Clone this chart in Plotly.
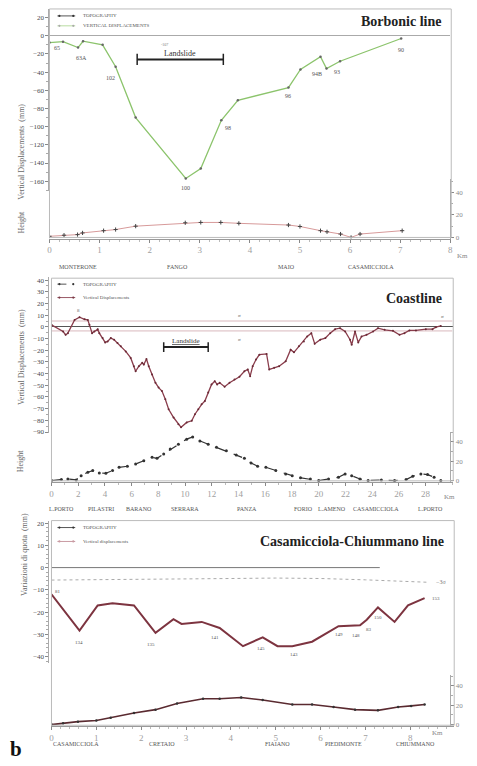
import plotly.graph_objects as go

W, H = 477, 766
def PX(x): return x / W
def PY(y): return 1 - y / H

# ---------------- Borbonic line ----------------
bor_km = [0, 0.27, 0.57, 0.67, 1.06, 1.32, 1.72, 2.72, 3.02, 3.43, 3.76, 4.77, 5.01, 5.41, 5.53, 5.80, 7.02]
bor_disp = [-7.5, -6.5, -13, -6, -10, -34, -90, -157, -146, -93, -71, -57, -37, -23, -36, -28, -3]
bor_h_km = [0, 0.29, 0.56, 0.66, 1.08, 1.32, 1.72, 2.71, 3.02, 3.42, 3.78, 4.77, 5.0, 5.41, 5.54, 5.81, 6.02, 6.2, 7.04]
bor_h = [1, 2, 2.5, 4, 6, 7, 10, 13, 13.3, 13.3, 12.5, 11, 9.7, 6, 5, 3, 0, 3, 6]
bor_lab_text = ["65", "63A", "102", "100", "98", "96", "94B", "93", "90"]
bor_lab_km = [0.14, 0.63, 1.22, 2.72, 3.56, 4.77, 5.35, 5.74, 7.02]
bor_lab_v = [-13, -25, -47, -168, -101, -66, -42, -40, -16]
bor_slide_km = [1.75, 3.47]
bor_slide_v = [-26, -26]
bor_villages = ["MONTERONE", "FANGO", "MAIO", "CASAMICCIOLA"]
bor_vill_km = [0.57, 2.55, 4.74, 6.42]
bor_legend = ["TOPOGRAPHY", "VERTICAL DISPLACEMENTS"]

# ---------------- Coastline ----------------
coast_km = [0, 0.87, 1.06, 1.23, 1.73, 2.1, 2.47, 2.72, 2.84, 3.04, 3.21, 3.46, 3.58, 3.83, 4.02, 4.2,
            4.44, 4.69, 4.94, 5.19, 5.56, 5.93, 6.17, 6.3, 6.54, 6.79, 6.91, 7.11, 7.28, 7.53, 7.78,
            8.02, 8.27, 8.52, 8.77, 9.14, 9.5, 9.7, 10.12, 10.5, 10.74, 10.99, 11.24, 11.48, 11.73,
            11.98, 12.22, 12.4, 12.59, 12.96, 13.33, 13.7, 14.07, 14.44, 14.69, 14.87, 15.06, 15.31,
            15.56, 16.1, 16.3, 16.67, 17.04, 17.53, 17.9, 18.15, 18.52, 18.89, 19.14, 19.45, 19.7,
            20.12, 20.5, 20.86, 21.23, 21.6, 21.98, 22.35, 22.47, 22.72, 22.96, 23.21, 23.58, 24.07,
            24.44, 24.94, 25.56, 26.05, 26.42, 26.79, 27.28, 28.02, 28.52, 28.77, 29.14]
coast_disp = [1.7, -4, -6.8, -5.4, 5.9, 8.2, 6.5, 5.9, 1.7, -5.4, -4, -2, -5.4, -9.6, -13.3, -12.5,
              -9.6, -11, -13.9, -16.7, -21, -26.6, -33.7, -38, -33.7, -30.8, -32.3, -27.5, -33.7, -40.8, -47.8,
              -52, -55, -62, -70.5, -77.6, -83.3, -86, -81.8, -80.4, -74.8, -70.5, -66.3, -63.5, -56.3,
              -49.3, -46.5, -49.3, -47.8, -51.2, -47.8, -45, -42.7, -38, -36.5, -42.2, -33.7, -28,
              -23.8, -23.2, -36.5, -35.1, -33.7, -29.5, -19.5, -21.8, -16.7, -12.5, -8.2, -5.4, -14.5,
              -11, -9.6, -5.4, -2, -1.1, -4, -11, -15.3, -4, -13.3, -8.2, -6.8, -4,
              -1.1, -2.5, -3.4, -6.8, -5.4, -3.1, -3.1, -2, -2, -0.3, 0.8]
coast_h_km = [0, 0.74, 1.23, 1.85, 2.22, 2.72, 3.09, 3.58, 4.07, 4.57, 5.06, 5.68, 6.3, 6.91, 7.53,
              7.9, 8.4, 8.89, 9.5, 10.12, 10.57, 11.11, 11.73, 12.35, 13.09, 13.83, 14.44, 14.94, 15.43,
              16.05, 16.79, 17.53, 18.02, 18.64, 19.38, 20, 20.74, 21.48, 21.98, 22.47, 23.09, 23.7,
              24.69, 25.68, 26.54, 27.04, 27.65, 28.15, 28.64, 29.14]
coast_h = [0, 1, 1.7, 0.7, 5.1, 8.6, 10.3, 7.9, 7.6, 10.3, 13.7, 14.8, 17.1, 20.5, 24,
           23, 27.4, 32.5, 37.6, 42.8, 45.1, 41, 37.6, 34.3, 30.8, 26.4, 23, 18.2, 14.8,
           13.7, 10.3, 6.9, 5.1, 2.8, 1.7, 0, 1.7, 3.5, 6.9, 5.1, 1.7, 0,
           0.7, 0, 1, 4.5, 6.9, 6.2, 3.5, 0]
coast_upper_km = [0, 30]
coast_upper = [5, 5]
coast_lower_km = [0, 30]
coast_lower = [-3.5, -3.5]
coast_lab_text = ["8", "σ", "σ", "σ"]
coast_lab_km = [2.0, 14.07, 14.07, 29.3]
coast_lab_v = [14.4, 9.3, -11, 8.7]
coast_slide_km = [8.4, 11.73]
coast_slide_v = [-17.3, -17.3]
coast_villages = ["L.PORTO", "PILASTRI", "BARANO", "SERRARA", "PANZA", "FORIO", "L.AMENO", "CASAMICCIOLA", "L.PORTO"]
coast_vill_km = [0.74, 3.7, 6.52, 10.0, 14.6, 18.9, 20.96, 24.3, 28.4]
coast_legend = ["TOPOGRAPHY", "Vertical Displacements"]

# ---------------- Casamicciola-Chiummano line ----------------
cas_km = [0, 0.625, 1.03, 1.36, 1.84, 2.32, 2.72, 2.9, 3.35, 3.75, 4.27, 4.71, 5.04, 5.37, 5.81,
          6.4, 6.88, 7.03, 7.28, 7.65, 7.95, 8.32]
cas_disp = [-12, -28.3, -17, -16, -17, -29.3, -23.2, -25.3, -24.4, -27.1, -35.3, -31.3, -35.3, -35.3,
            -33.3, -26.3, -25.9, -23.4, -17.9, -24.4, -17, -13.7]
cas_h_km = [0, 0.26, 0.59, 1.0, 1.32, 1.84, 2.32, 2.8, 3.38, 3.75, 4.23, 4.71, 5.37, 5.81, 6.29,
            6.77, 7.28, 7.73, 8.02, 8.32]
cas_h = [0, 1.4, 3, 4.2, 7, 12, 15.4, 21.7, 26.6, 26.6, 28, 25.3, 20.7, 20.7, 18.2, 15.4, 14.7,
         18.2, 19.3, 20.7]
cas_ref_km = [0, 1, 2, 3, 4, 5, 6, 7, 8.4]
cas_ref = [-5.6, -5.5, -5.3, -5.1, -4.9, -4.7, -4.9, -5.5, -6.6]
cas_zero_km = [0, 7.32]
cas_zero = [0, 0]
cas_lab_text = ["81", "134", "135", "141", "145", "143", "149", "148", "83", "150", "153"]
cas_lab_km = [0.15, 0.62, 2.21, 3.64, 4.68, 5.41, 6.4, 6.8, 7.09, 7.28, 8.57]
cas_lab_v = [-10.6, -33.8, -34.7, -31.4, -36.3, -39, -29.9, -30.4, -27.6, -22.3, -14]
cas_villages = ["CASAMICCIOLA", "CRETAIO", "FIAIANO", "PIEDIMONTE", "CHIUMMANO"]
cas_vill_km = [0.55, 2.47, 5.03, 6.51, 8.12]
cas_legend = ["TOPOGRAPHY", "Vertical displacements"]

SERIF = "Liberation Serif"
TICKF = dict(family=SERIF, size=7, color="#4a4a4a")
RTICKF = dict(family=SERIF, size=7, color="#8a8a8a")
XTICKF = dict(family=SERIF, size=9, color="#a0a0a0")

fig = go.Figure()

# ---- panel 1 traces
fig.add_trace(go.Scatter(x=bor_h_km, y=bor_h, xaxis="x", yaxis="y2", mode="lines+markers",
                         line=dict(color="#d79a9a", width=1),
                         marker=dict(color="#444", size=3, symbol="cross-thin", line=dict(width=1, color="#444"))))
fig.add_trace(go.Scatter(x=bor_km, y=bor_disp, xaxis="x", yaxis="y", mode="lines+markers",
                         line=dict(color="#8cc46c", width=1.3), marker=dict(color="#666", size=2.5)))
fig.add_trace(go.Scatter(x=bor_slide_km, y=bor_slide_v, xaxis="x", yaxis="y", mode="lines+markers",
                         line=dict(color="#222", width=2),
                         marker=dict(symbol="line-ns-open", size=8, line=dict(width=1.5, color="#222"))))

# ---- panel 2 traces
fig.add_trace(go.Scatter(x=coast_upper_km, y=coast_upper, xaxis="x2", yaxis="y3", mode="lines",
                         line=dict(color="#d9b8bd", width=1)))
fig.add_trace(go.Scatter(x=coast_lower_km, y=coast_lower, xaxis="x2", yaxis="y3", mode="lines",
                         line=dict(color="#d9b8bd", width=1)))
fig.add_trace(go.Scatter(x=coast_h_km, y=coast_h, xaxis="x2", yaxis="y4", mode="lines+markers",
                         line=dict(color="#333", width=1.2, dash="dash"), marker=dict(color="#333", size=3)))
fig.add_trace(go.Scatter(x=coast_km, y=coast_disp, xaxis="x2", yaxis="y3", mode="lines+markers",
                         line=dict(color="#8a3d4c", width=1.3), marker=dict(color="#6a2a36", size=2)))
fig.add_trace(go.Scatter(x=coast_slide_km, y=coast_slide_v, xaxis="x2", yaxis="y3", mode="lines+markers",
                         line=dict(color="#222", width=2),
                         marker=dict(symbol="line-ns-open", size=7, line=dict(width=1.5, color="#222"))))

# ---- panel 3 traces
fig.add_trace(go.Scatter(x=cas_zero_km, y=cas_zero, xaxis="x3", yaxis="y5", mode="lines",
                         line=dict(color="#777", width=1)))
fig.add_trace(go.Scatter(x=cas_ref_km, y=cas_ref, xaxis="x3", yaxis="y5", mode="lines",
                         line=dict(color="#aaa", width=1, dash="dot")))
fig.add_trace(go.Scatter(x=cas_h_km, y=cas_h, xaxis="x3", yaxis="y6", mode="lines+markers",
                         line=dict(color="#5a2a30", width=1.6), marker=dict(color="#333", size=2.5)))
fig.add_trace(go.Scatter(x=cas_km, y=cas_disp, xaxis="x3", yaxis="y5", mode="lines",
                         line=dict(color="#7d3440", width=2)))

# ---- axes
def yax(dom, rng, tickvals, side="left", anchor="x", minor=None, zeroline=False, zc="#999"):
    d = dict(domain=dom, range=rng, tickvals=tickvals, side=side, anchor=anchor,
             showgrid=False, zeroline=zeroline, zerolinecolor=zc, zerolinewidth=1,
             showline=True, linecolor="#aaa", linewidth=1, ticks="outside", ticklen=3,
             tickcolor="#888", tickfont=TICKF if side == "left" else RTICKF, fixedrange=True)
    if minor:
        d["minor"] = dict(dtick=minor, ticks="outside", ticklen=2, tickcolor="#aaa", showgrid=False)
    return d

def xax(dom, rng, tickvals, anchor, minor):
    return dict(domain=dom, range=rng, tickvals=tickvals, anchor=anchor, showgrid=False,
                zeroline=False, showline=True, linecolor="#999", linewidth=1, ticks="outside",
                ticklen=3, tickcolor="#888", tickfont=XTICKF, fixedrange=True,
                minor=dict(dtick=minor, ticks="outside", ticklen=2, tickcolor="#bbb", showgrid=False))

fig.update_layout(
    width=W, height=H, margin=dict(l=0, r=0, t=0, b=0),
    paper_bgcolor="white", plot_bgcolor="rgba(0,0,0,0)",
    showlegend=False, hovermode=False,
    xaxis=xax([PX(48), PX(453)], [0, 8], list(range(0, 9)), "y2", 0.2),
    yaxis=yax([PY(190), PY(7)], [-170.5, 29.5], list(range(-160, 21, 20)), minor=10, zeroline=True, zc="#aaa"),
    yaxis2=yax([PY(238.1), PY(178)], [-1, 52], [0, 20, 40], side="right", minor=10),
    xaxis2=xax([PX(50), PX(456)], [0, 30.07], list(range(0, 29, 2)), "y4", 1),
    yaxis3=yax([PY(434), PY(277)], [-91, 42.5], list(range(-90, 41, 10)), minor=5, zeroline=True, zc="#555"),
    yaxis4=yax([PY(483), PY(433)], [-1.3, 50], [0, 20, 40], side="right", minor=10),
    xaxis3=xax([PX(50), PX(457)], [0, 8.98], list(range(0, 9)), "y6", 0.2),
    yaxis5=yax([PY(665), PY(522.7)], [-42.7, 20.8], list(range(-40, 21, 10)), minor=2),
    yaxis6=yax([PY(728.5), PY(677)], [-1.2, 51.6], [0, 20, 40], side="right", minor=10),
)

shapes = []
# ---- frames
for (x0, y0, x1, y1) in [(48, 7, 454, 237), (50, 278, 456, 482), (50, 522, 457, 728)]:
    shapes.append(dict(type="rect", xref="paper", yref="paper", x0=PX(x0), x1=PX(x1), y0=PY(y1), y1=PY(y0),
                       line=dict(color="#bbb", width=1)))

ann = []
def A(**k):
    base = dict(showarrow=False, font=dict(family=SERIF, size=6, color="#555"))
    f = k.pop("font", None)
    if f:
        base["font"].update(f)
    base.update(k)
    ann.append(base)

# ---- hand-drawn legends (sample line + dots + text)
def legend_row(x0, y, color, text, dash="solid", dotc=None, width=1):
    shapes.append(dict(type="line", xref="paper", yref="paper", x0=PX(x0), x1=PX(x0 + 18), y0=PY(y), y1=PY(y),
                       line=dict(color=color, width=width, dash=dash)))
    for dx in (2, 16):
        shapes.append(dict(type="circle", xref="paper", yref="paper", x0=PX(x0 + dx - 1.1), x1=PX(x0 + dx + 1.1),
                           y0=PY(y + 1.1), y1=PY(y - 1.1), fillcolor=dotc or color, line=dict(width=0)))
    A(text=text, xref="paper", yref="paper", x=PX(x0 + 24), y=PY(y), xanchor="left", yanchor="middle",
      font=dict(size=5, color="#555"))

legend_row(56, 14, "#555", bor_legend[0], dotc="#333")
legend_row(56, 24, "#b8dca0", bor_legend[1], dotc="#aaa")
legend_row(56, 284, "#555", coast_legend[0], dash="dash", dotc="#333")
legend_row(56, 297.5, "#9a5a66", coast_legend[1], dotc="#7a3a46")
legend_row(56, 529, "#555", cas_legend[0], dotc="#333")
legend_row(56, 543, "#c99aa2", cas_legend[1], dotc="#c99aa2")

# titles
A(text="<b>Borbonic line</b>", xref="paper", yref="paper", x=PX(447), y=PY(20), xanchor="right", yanchor="middle",
  font=dict(size=14, color="#222"))
A(text="<b>Coastline</b>", xref="paper", yref="paper", x=PX(447), y=PY(298), xanchor="right", yanchor="middle",
  font=dict(size=14, color="#222"))
A(text="<b>Casamicciola-Chiummano line</b>", xref="paper", yref="paper", x=PX(449), y=PY(543), xanchor="right",
  yanchor="middle", font=dict(size=14, color="#222"))
A(text="<b>b</b>", xref="paper", yref="paper", x=PX(6), y=PY(752), xanchor="left", yanchor="middle",
  font=dict(size=21, color="#111"))

# y titles
A(text="Vertical Displacements  (mm)", xref="paper", yref="paper", x=PX(13), y=PY(100), textangle=-90,
  font=dict(size=8, color="#666"))
A(text="Height", xref="paper", yref="paper", x=PX(13), y=PY(208), textangle=-90, font=dict(size=8, color="#666"))
A(text="Vertical Displacements  (mm)", xref="paper", yref="paper", x=PX(13), y=PY(357), textangle=-90,
  font=dict(size=8, color="#666"))
A(text="Height", xref="paper", yref="paper", x=PX(13), y=PY(462), textangle=-90, font=dict(size=8, color="#666"))
A(text="Variazioni di quota  (mm)", xref="paper", yref="paper", x=PX(16), y=PY(600), textangle=-90,
  font=dict(size=8, color="#666"))

# Km labels
A(text="Km", xref="paper", yref="paper", x=PX(465), y=PY(256), xanchor="center", font=dict(size=7, color="#888"))
A(text="Km", xref="paper", yref="paper", x=PX(452), y=PY(498), xanchor="center", font=dict(size=7, color="#888"))
A(text="Km", xref="paper", yref="paper", x=PX(440), y=PY(742), xanchor="center", font=dict(size=7, color="#888"))

# villages
for t, k in zip(bor_villages, bor_vill_km):
    A(text=t, xref="x", yref="paper", x=k, y=PY(267), font=dict(size=6, color="#555"))
for t, k in zip(coast_villages, coast_vill_km):
    A(text=t, xref="x2", yref="paper", x=k, y=PY(515), font=dict(size=6, color="#555"))
for t, k in zip(cas_villages, cas_vill_km):
    A(text=t, xref="x3", yref="paper", x=k, y=PY(752), font=dict(size=6, color="#555"))

# point labels
for t, k, v in zip(bor_lab_text, bor_lab_km, bor_lab_v):
    A(text=t, xref="x", yref="y", x=k, y=v, font=dict(size=6, color="#555"))
for t, k, v in zip(coast_lab_text, coast_lab_km, coast_lab_v):
    A(text=t, xref="x2", yref="y3", x=k, y=v, font=dict(size=5, color="#666"))
for t, k, v in zip(cas_lab_text, cas_lab_km, cas_lab_v):
    A(text=t, xref="x3", yref="y5", x=k, y=v, font=dict(size=5, color="#555"))
A(text="−3σ", xref="x3", yref="y5", x=cas_ref_km[-1] + 0.12, y=cas_ref[-1], xanchor="left",
  font=dict(size=6, color="#777"))

# landslide labels
A(text="Landslide", xref="x", yref="y", x=sum(bor_slide_km) / 2, y=bor_slide_v[0] + 7, font=dict(size=8, color="#333"))
A(text="-107", xref="x", yref="y", x=bor_slide_km[0] + 0.55, y=bor_slide_v[0] + 16, font=dict(size=4, color="#777"))
A(text="<u>Landslide</u>", xref="x2", yref="y3", x=sum(coast_slide_km) / 2, y=coast_slide_v[0] + 5.5,
  font=dict(size=7, color="#333"))

fig.update_layout(annotations=ann, shapes=shapes)
fig.write_html("out.html", config={"displayModeBar": False, "staticPlot": True},
               post_script="document.body.style.margin='0';document.body.style.overflow='hidden';")
